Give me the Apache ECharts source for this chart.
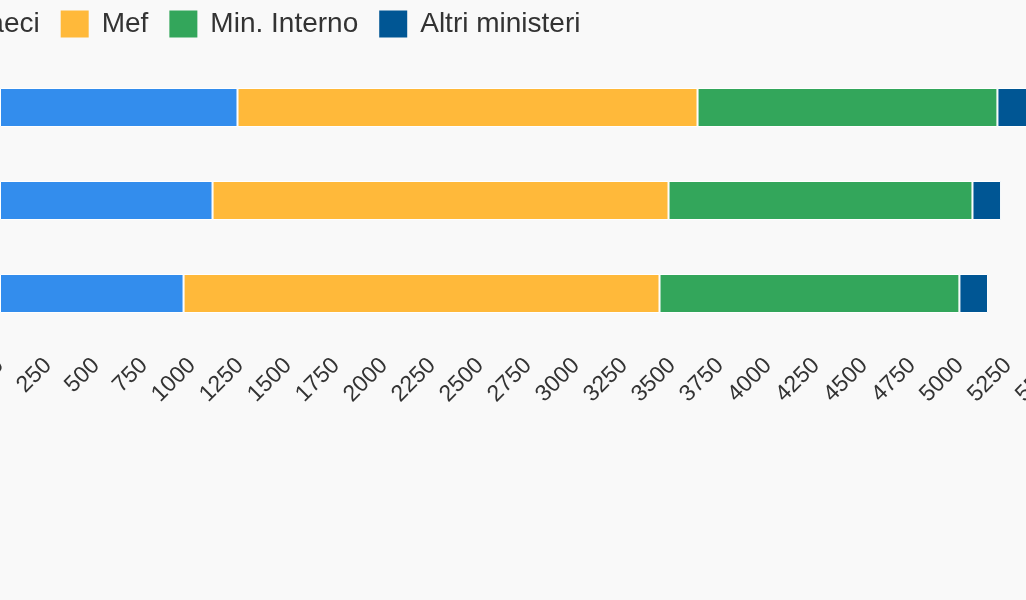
<!DOCTYPE html>
<html>
<head>
<meta charset="utf-8">
<script src="https://cdn.jsdelivr.net/npm/echarts@6/dist/echarts.min.js"></script>
<style>
html, body { margin: 0; padding: 0; width: 1026px; height: 600px; overflow: hidden; background: #f9f9f9; }
#chart { position: absolute; left: -120px; top: 0; width: 1300px; height: 600px; }
</style>
</head>
<body>
<div id="chart"></div>
<script>
const categories = ['2019', '2018', '2017'];
const seriesNames = ['Maeci', 'Mef', 'Min. Interno', 'Altri ministeri'];
const maeci = [1237, 1107, 956];
const mef = [2396, 2375, 2479];
const interno = [1562, 1583, 1562];
const altri = [160, 149, 149];
const colors = ['#338DED', '#FFB93A', '#33A65B', '#005694'];
const axisMin = 0, axisMax = 5500, axisStep = 250;

const values = [maeci, mef, interno, altri];
const font = '"Liberation Sans", Arial, sans-serif';

const chart = echarts.init(document.getElementById('chart'));
chart.setOption({
  backgroundColor: '#f9f9f9',
  animation: false,
  color: colors,
  legend: {
    left: 39,
    top: 5,
    icon: 'rect',
    itemWidth: 28,
    itemHeight: 27,
    itemGap: 21,
    itemStyle: { borderWidth: 0 },
    textStyle: { fontSize: 28, color: '#333', fontFamily: font, padding: [4, 0, 0, 8] },
    data: seriesNames
  },
  grid: { left: 120, top: 61, height: 279, width: 1056, containLabel: false },
  xAxis: {
    type: 'value',
    min: axisMin,
    max: axisMax,
    interval: axisStep,
    axisLine: { show: false },
    axisTick: { show: false },
    splitLine: { show: false },
    axisLabel: { rotate: 45, fontSize: 23, color: '#333', fontFamily: font, margin: 22, formatter: v => String(v) }
  },
  yAxis: {
    type: 'category',
    data: categories,
    inverse: true,
    axisLine: { show: false },
    axisTick: { show: false },
    axisLabel: { fontSize: 22, color: '#333', fontFamily: font }
  },
  series: seriesNames.map((name, i) => ({
    name: name,
    type: 'bar',
    stack: 'total',
    barWidth: 39,
    itemStyle: { color: colors[i], borderColor: '#ffffff', borderWidth: 1 },
    data: values[i]
  }))
});
</script>
</body>
</html>
